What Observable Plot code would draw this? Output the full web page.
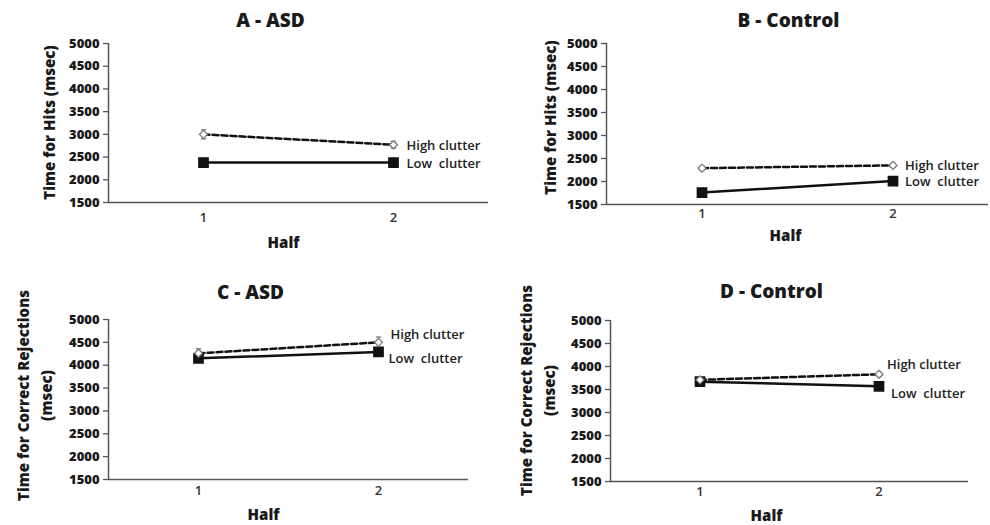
<!DOCTYPE html>
<html>
<head>
<meta charset="utf-8">
<script src="https://cdn.jsdelivr.net/npm/d3@7"></script>
<script src="https://cdn.jsdelivr.net/npm/@observablehq/plot@0.6"></script>
<style>
  html, body { margin: 0; padding: 0; background: #fff; }
  #wrap { position: relative; width: 990px; height: 525px; overflow: hidden; font-family: "Open Sans", sans-serif; }
  .panel { position: absolute; }
  .panel svg { background: #fff; }
  svg text { white-space: pre; }
</style>
</head>
<body>
<div id="wrap"></div>
<script>
// ---- data ----
const halves = [1, 2];
const panelTitles = ["A - ASD", "B - Control", "C - ASD", "D - Control"];
const yLabels = [
  "Time for Hits (msec)",
  "Time for Hits (msec)",
  "Time for Correct Rejections\n(msec)",
  "Time for Correct Rejections\n(msec)"
];
const xLabel = "Half";
const seriesNames = ["High clutter", "Low  clutter"];
const highClutter = [[3000, 2770], [2290, 2350], [4260, 4500], [3710, 3830]];
const lowClutter  = [[2380, 2380], [1760, 2010], [4150, 4290], [3670, 3570]];
const highErr = [[100, 75], [40, 40], [100, 115], [40, 40]];
const lowErr  = [[50, 50], [60, 70], [60, 60], [40, 40]];
const yTicks = [1500, 2000, 2500, 3000, 3500, 4000, 4500, 5000];

// ---- layout (pixel positions of the panels and their texts) ----
const layout = [
  {left: 0,   top: 0,   w: 495, h: 262, mL: 108, mR: 7,  mT: 43, mB: 60, title: [270, 20], ylab: [47, 122],  half: [283, 243], tickY: 221, hi: [13, 1],  lo: [13, 1]},
  {left: 495, top: 0,   w: 495, h: 262, mL: 111, mR: 2,  mT: 43, mB: 58, title: [293, 20], ylab: [53, 117],  half: [290, 236], tickY: 217, hi: [12, 0],  lo: [12, 1]},
  {left: 0,   top: 262, w: 495, h: 263, mL: 108, mR: 27, mT: 57, mB: 46, title: [250, 30], ylab: [33, 133],  half: [263, 253], tickY: 232, hi: [12, -8], lo: [10, 7]},
  {left: 495, top: 262, w: 495, h: 263, mL: 115, mR: 22, mT: 58, mB: 44, title: [276, 29], ylab: [41, 128],  half: [271, 254], tickY: 233, hi: [8, -9],  lo: [12, 8]}
];

const cap = {draw(ctx, size) { const w = Math.sqrt(size) / 2; ctx.moveTo(-w, 0); ctx.lineTo(w, 0); }};
const wrap = document.getElementById("wrap");

panelTitles.forEach((title, p) => {
  const L = layout[p];
  const rows = halves.map((h, i) => ({
    half: h,
    high: highClutter[p][i],
    low: lowClutter[p][i],
    hiE: highErr[p][i],
    loE: lowErr[p][i]
  }));
  const last = [rows[rows.length - 1]];
  const anchor = (pt) => ({dx: pt[0] - L.mL, dy: pt[1] - L.mT});

  const chart = Plot.plot({
    width: L.w,
    height: L.h,
    marginLeft: L.mL,
    marginRight: L.mR,
    marginTop: L.mT,
    marginBottom: L.mB,
    style: {fontFamily: "Open Sans, sans-serif", color: "#1a1a1a", background: "#fff"},
    x: {domain: [0.5, 2.5], axis: null},
    y: {domain: [1500, 5000]},
    marks: [
      Plot.axisY(yTicks, {tickSize: 5, tickPadding: 4, tickFormat: d3.format("d"), fontSize: 13, fontWeight: 800, label: null, stroke: "#555", strokeWidth: 1.3}),
      Plot.ruleX([0.5], {stroke: "#555", strokeWidth: 1.5}),
      Plot.ruleY([1500], {stroke: "#555", strokeWidth: 1.5}),
      // error bars
      Plot.ruleX(rows, {x: "half", y1: d => d.high - d.hiE, y2: d => d.high + d.hiE, stroke: "#888"}),
      Plot.dot(rows, {x: "half", y: d => d.high + d.hiE, symbol: cap, r: 3, fill: "none", stroke: "#888"}),
      Plot.dot(rows, {x: "half", y: d => d.high - d.hiE, symbol: cap, r: 3, fill: "none", stroke: "#888"}),
      Plot.ruleX(rows, {x: "half", y1: d => d.low - d.loE, y2: d => d.low + d.loE, stroke: "#333"}),
      // series lines
      Plot.line(rows, {x: "half", y: "low", stroke: "#111", strokeWidth: 2.5}),
      Plot.line(rows, {x: "half", y: "high", stroke: "#111", strokeWidth: 2.5, strokeDasharray: "6,3"}),
      Plot.dot(rows, {x: "half", y: "low", symbol: "square", r: 5.2, fill: "#111", stroke: "#111"}),
      Plot.dot(rows, {x: "half", y: "high", symbol: "diamond2", r: 3.6, fill: "white", stroke: "#777", strokeWidth: 1.3}),
      // series labels
      Plot.text(last, {x: "half", y: "high", text: () => seriesNames[0], dx: L.hi[0], dy: L.hi[1], textAnchor: "start", fontSize: 13, fontWeight: 600, fill: "#222"}),
      Plot.text(last, {x: "half", y: "low", text: () => seriesNames[1], dx: L.lo[0], dy: L.lo[1], textAnchor: "start", fontSize: 13, fontWeight: 600, fill: "#222"}),
      // x tick labels
      Plot.text(halves, {x: d => d, text: d => String(d), frameAnchor: "bottom", dy: L.tickY - (L.h - L.mB), fontSize: 13, fontWeight: 600, fill: "#333"}),
      // x label
      Plot.text([xLabel], {frameAnchor: "top-left", ...anchor(L.half), text: d => d, textAnchor: "middle", lineAnchor: "middle", fontSize: 15, fontWeight: 800}),
      // y label
      Plot.text([yLabels[p]], {frameAnchor: "top-left", ...anchor(L.ylab), text: d => d, rotate: -90, textAnchor: "middle", lineAnchor: "middle", lineHeight: 1.5, fontSize: 15, fontWeight: 800}),
      // panel title
      Plot.text([title], {frameAnchor: "top-left", ...anchor(L.title), text: d => d, textAnchor: "middle", lineAnchor: "middle", fontSize: 19, fontWeight: 800})
    ]
  });
  const div = document.createElement("div");
  div.className = "panel";
  div.style.left = L.left + "px";
  div.style.top = L.top + "px";
  div.appendChild(chart);
  wrap.appendChild(div);
});
</script>
</body>
</html>
